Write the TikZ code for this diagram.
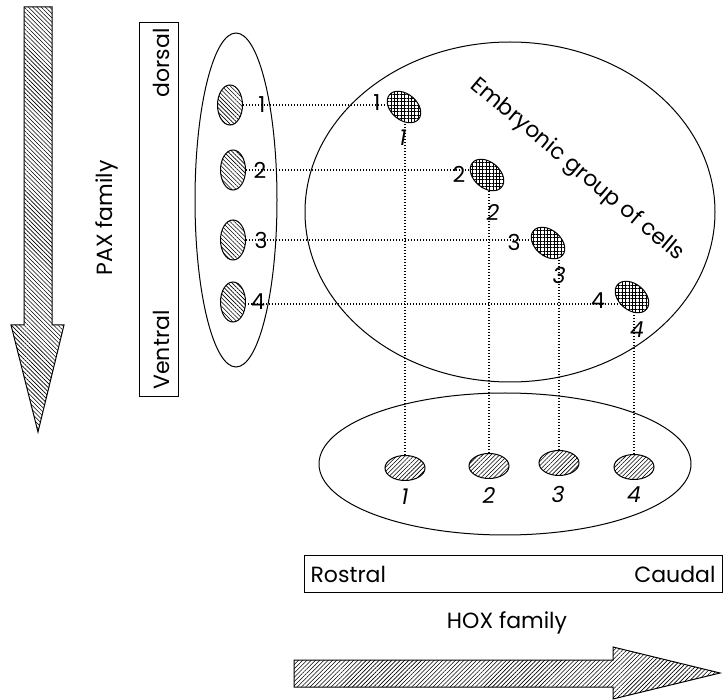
\documentclass[tikz,border=0pt]{standalone}
\usepackage{fontspec}
\setmainfont{Poppins}
\usetikzlibrary{shapes.geometric,patterns.meta,backgrounds}

\begin{document}
\begin{tikzpicture}[x=0.5pt,y=-0.5pt,font=\fontsize{11}{13}\selectfont]
  \tikzstyle{outline}=[draw, line width=0.5pt]
  \tikzstyle{group}=[outline, ellipse, inner sep=0pt]
  \tikzstyle{cellPax}=[group, minimum width=12.5pt, minimum height=20pt, preaction={fill=white}, pattern={Lines[angle=-45,distance=1.5pt,line width=0.3pt]}]
  \tikzstyle{cellEmb}=[group, minimum width=19pt, minimum height=13pt, rotate=-40, preaction={fill=white}, pattern={Hatch[angle=0,distance=1.7pt,line width=0.35pt]}]
  \tikzstyle{cellHox}=[group, minimum width=20pt, minimum height=12.5pt, preaction={fill=white}, pattern={Lines[angle=45,distance=1.5pt,line width=0.3pt]}]
  \tikzstyle{link}=[line width=0.55pt, dash pattern=on 0.6pt off 0.9pt]
  \tikzstyle{bigarrow}=[outline, line join=miter, pattern={Lines[angle=-45,distance=1.5pt,line width=0.3pt]}]
  \tikzstyle{itnum}=[font=\fontsize{11}{13}\selectfont\itshape]
  \useasboundingbox (0,0) rectangle (724,700);

  \draw[bigarrow] (24,7) -- (52,7) -- (52,325) -- (64,325) -- (38,432) -- (11,325) -- (24,325) -- cycle;
  \draw[bigarrow, pattern={Lines[angle=45,distance=1.5pt,line width=0.3pt]}] (294,660) -- (613,660) -- (613,647) -- (720,673) -- (613,699) -- (613,687) -- (294,687) -- cycle;

  \node[rotate=90] (pax) at (107,218) {PAX family};
  \node[outline, minimum width=19.5pt, minimum height=187pt, inner sep=0pt] (dvbox) at (158.5,210) {};
  \node[rotate=90] (dorsal) at (161,63) {dorsal};
  \node[rotate=90] (ventral) at (161,350) {Ventral};

  \node[group, minimum width=41pt, minimum height=167pt] (paxgroup) at (236,200) {};
  \node[group, minimum width=205pt, minimum height=170pt] (embgroup) at (510,212) {};
  \node[group, minimum width=186pt, minimum height=71pt] (hoxgroup) at (505,464) {};
  \node[rotate=-40] (embtext) at (577,170) {Embryonic group of cells};

  \node[cellPax] (pcell1) at (230,105) {};
  \node[cellPax] (pcell2) at (233,170) {};
  \node[cellPax] (pcell3) at (233,240) {};
  \node[cellPax] (pcell4) at (233,302) {};

  \node[cellEmb] (ecell1) at (404,107) {};
  \node[cellEmb] (ecell2) at (487,175) {};
  \node[cellEmb] (ecell3) at (548,243) {};
  \node[cellEmb] (ecell4) at (632,297) {};

  \node[cellHox] (hcell1) at (405,468) {};
  \node[cellHox] (hcell2) at (489,466) {};
  \node[cellHox] (hcell3) at (559,463) {};
  \node[cellHox] (hcell4) at (634,467) {};

  \begin{scope}[on background layer]
    \draw[link] (pcell1) -- (pcell1 -| ecell1);
    \draw[link] (pcell2) -- (pcell2 -| ecell2);
    \draw[link] (pcell3) -- (pcell3 -| ecell3);
    \draw[link] (pcell4.center) ++(0,2) -- (ecell4 |- 0,304);
    \draw[link] (hcell1) -- (hcell1 |- ecell1);
    \draw[link] (hcell2) -- (hcell2 |- ecell2);
    \draw[link] (hcell3) -- (hcell3 |- ecell3);
    \draw[link] (hcell4) -- (hcell4 |- ecell4);
  \end{scope}

  \node (pnum1) at (262,105) {1};
  \node (pnum2) at (260,170) {2};
  \node (pnum3) at (261,240) {3};
  \node (pnum4) at (258,302) {4};

  \node (enum1) at (377,103) {1};
  \node (enum2) at (459,174) {2};
  \node (enum3) at (514,242) {3};
  \node (enum4) at (598,301) {4};

  \node[itnum] (inum1) at (403,138) {1};
  \node[itnum] (inum2) at (493,212) {2};
  \node[itnum] (inum3) at (559,275) {3};
  \node[itnum] (inum4) at (637,330) {4};

  \node[itnum] (hnum1) at (405,497) {1};
  \node[itnum] (hnum2) at (489,495) {2};
  \node[itnum] (hnum3) at (558,494) {3};
  \node[itnum] (hnum4) at (634,495) {4};

  \node[outline, minimum width=209pt, minimum height=18.5pt, inner sep=0pt] (rcbox) at (513,574.5) {};
  \node[anchor=west] (rostral) at (rcbox.west) {Rostral};
  \node[anchor=east] (caudal) at (rcbox.east) {Caudal};
  \node (hox) at (507,623) {HOX family};
\end{tikzpicture}
\end{document}
